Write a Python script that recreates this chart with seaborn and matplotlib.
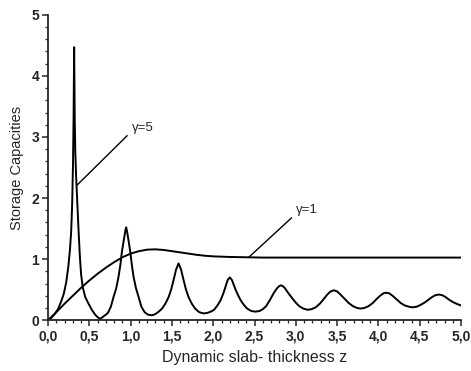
import matplotlib
matplotlib.use("Agg")
import matplotlib.pyplot as plt
import matplotlib.ticker as mticker
import seaborn as sns
import pandas as pd

# gamma = 5 curve (x = slab thickness z, y = storage capacity)
z_g5 = [0.00, 0.04, 0.08, 0.12, 0.16, 0.19, 0.22, 0.245, 0.265, 0.28, 0.292, 0.302, 0.309, 0.313, 0.316,
        0.319, 0.323, 0.330, 0.340, 0.350, 0.360, 0.370, 0.385, 0.40, 0.42, 0.45, 0.49, 0.53, 0.57, 0.60, 0.63,
        0.66, 0.70, 0.725, 0.76, 0.793, 0.825, 0.853, 0.875, 0.894, 0.915, 0.935, 0.946,
        0.958, 0.975, 0.995, 1.015, 1.035, 1.065, 1.096, 1.13, 1.17, 1.21, 1.26,
        1.30, 1.34, 1.38, 1.42, 1.46, 1.49, 1.52, 1.55, 1.58,
        1.61, 1.64, 1.67, 1.70, 1.74, 1.78, 1.83, 1.885,
        1.93, 1.97, 2.01, 2.05, 2.09, 2.12, 2.148, 2.175, 2.20,
        2.225, 2.25, 2.27, 2.30, 2.33, 2.37, 2.41, 2.46, 2.51,
        2.56, 2.60, 2.64, 2.69, 2.73, 2.77, 2.80, 2.82,
        2.84, 2.87, 2.91, 2.95, 2.99, 3.04, 3.09, 3.14,
        3.19, 3.24, 3.29, 3.34, 3.38, 3.42, 3.46,
        3.50, 3.54, 3.59, 3.64, 3.69, 3.74, 3.78,
        3.83, 3.88, 3.93, 3.98, 4.02, 4.06, 4.09,
        4.13, 4.17, 4.22, 4.27, 4.32, 4.37, 4.41,
        4.46, 4.51, 4.56, 4.61, 4.65, 4.69, 4.73,
        4.77, 4.81, 4.86, 4.91, 4.96, 5.00]
s_g5 = [0.00, 0.04, 0.10, 0.18, 0.31, 0.43, 0.62, 0.87, 1.15, 1.45, 1.90, 2.55, 3.30, 4.00, 4.47,
        3.90, 3.30, 2.75, 2.35, 2.05, 1.75, 1.45, 1.05, 0.75, 0.54, 0.38, 0.27, 0.17, 0.09, 0.05, 0.02,
        0.05, 0.09, 0.12, 0.22, 0.38, 0.52, 0.71, 0.90, 1.12, 1.30, 1.46, 1.52,
        1.44, 1.30, 1.12, 0.90, 0.71, 0.52, 0.38, 0.22, 0.13, 0.09, 0.08,
        0.10, 0.14, 0.19, 0.27, 0.38, 0.50, 0.66, 0.83, 0.93,
        0.83, 0.66, 0.50, 0.38, 0.27, 0.19, 0.13, 0.11,
        0.12, 0.14, 0.17, 0.24, 0.33, 0.43, 0.55, 0.66, 0.70,
        0.66, 0.57, 0.50, 0.41, 0.33, 0.25, 0.19, 0.15, 0.14,
        0.15, 0.18, 0.23, 0.34, 0.44, 0.52, 0.56, 0.57,
        0.56, 0.52, 0.44, 0.37, 0.30, 0.23, 0.19, 0.17,
        0.18, 0.21, 0.27, 0.35, 0.42, 0.47, 0.49,
        0.47, 0.42, 0.35, 0.28, 0.23, 0.20, 0.19,
        0.20, 0.23, 0.28, 0.35, 0.40, 0.44, 0.45,
        0.44, 0.40, 0.34, 0.28, 0.24, 0.22, 0.21,
        0.22, 0.25, 0.29, 0.34, 0.38, 0.41, 0.42,
        0.41, 0.38, 0.33, 0.29, 0.26, 0.24]

# gamma = 1 curve
z_g1 = [0.0, 0.1, 0.2, 0.3, 0.4, 0.5, 0.6, 0.7, 0.8, 0.9, 1.0, 1.1, 1.2, 1.3, 1.4, 1.5, 1.6, 1.7,
        1.8, 1.9, 2.0, 2.2, 2.4, 2.6, 3.0, 3.5, 4.0, 4.5, 5.0]
s_g1 = [0.00, 0.13, 0.27, 0.40, 0.53, 0.65, 0.76, 0.86, 0.95, 1.03, 1.09, 1.13, 1.155, 1.16, 1.15,
        1.13, 1.11, 1.09, 1.07, 1.055, 1.045, 1.035, 1.03, 1.025, 1.025, 1.025, 1.025, 1.025, 1.025]

x_ticks = [0.0, 0.5, 1.0, 1.5, 2.0, 2.5, 3.0, 3.5, 4.0, 4.5, 5.0]
y_ticks = [0, 1, 2, 3, 4, 5]

sns.set_style("ticks")
plt.rcParams['font.family'] = ['Liberation Sans', 'DejaVu Sans']

df5 = pd.DataFrame({"z": z_g5, "S": s_g5})
df1 = pd.DataFrame({"z": z_g1, "S": s_g1})

fig = plt.figure(figsize=(4.71, 3.71), dpi=100)
ax = fig.add_axes([0.102, 0.137, 0.877, 0.823])

sns.lineplot(data=df5, x="z", y="S", ax=ax, color="black", lw=1.4, estimator=None, sort=False)
sns.lineplot(data=df1, x="z", y="S", ax=ax, color="black", lw=1.4, estimator=None, sort=False)

ax.set_xlim(0, 5)
ax.set_ylim(0, 5)
ax.set_xticks(x_ticks)
ax.set_yticks(y_ticks)
ax.xaxis.set_minor_locator(mticker.MultipleLocator(0.1))
ax.yaxis.set_minor_locator(mticker.MultipleLocator(0.2))
ax.xaxis.set_major_formatter(mticker.FuncFormatter(lambda v, p: f"{v:.1f}".replace(".", ",")))
ax.yaxis.set_major_formatter(mticker.FuncFormatter(lambda v, p: f"{v:.0f}"))
ax.tick_params(which="major", direction="out", length=4.5, width=1.1, labelsize=10, pad=2)
ax.tick_params(which="minor", direction="out", length=2.5, width=0.9)
for lab in ax.get_xticklabels() + ax.get_yticklabels():
    lab.set_fontweight("bold")

sns.despine(ax=ax)
for sp in ["left", "bottom"]:
    ax.spines[sp].set_linewidth(1.3)

ax.set_xlabel("Dynamic slab- thickness z", fontsize=11.5, labelpad=5)
ax.set_ylabel("Storage Capacities", fontsize=10.5, labelpad=5)

ax.annotate("γ=5", xy=(0.35, 2.21), xytext=(1.01, 3.15), fontsize=9.5, ha="left", va="center",
            arrowprops=dict(arrowstyle="-", color="black", lw=1.0, shrinkA=1, shrinkB=0, relpos=(0, 0.2)))
ax.annotate("γ=1", xy=(2.43, 1.03), xytext=(3.0, 1.80), fontsize=9.5, ha="left", va="center",
            arrowprops=dict(arrowstyle="-", color="black", lw=1.0, shrinkA=1, shrinkB=0, relpos=(0, 0.2)))

fig.savefig("out.png", dpi=100)
